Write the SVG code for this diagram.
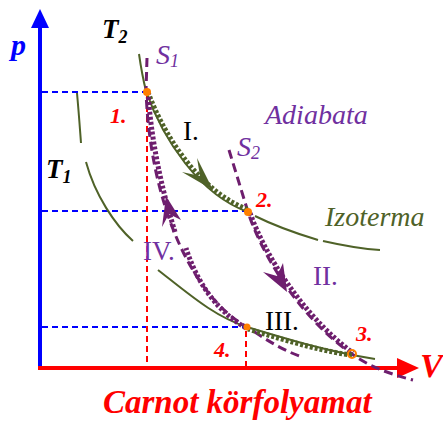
<svg xmlns="http://www.w3.org/2000/svg" width="443" height="424" viewBox="0 0 443 424">
<style>
.lbl{font-family:"Liberation Serif","Times New Roman",serif}
.bi{font-weight:bold;font-style:italic}
.it{font-style:italic}
.red{fill:#ff0000}
.pur{fill:#7030a0}
.grn{fill:#4f6228}
.guideB{stroke:#0000ff;stroke-width:2;stroke-dasharray:6 4;fill:none}
.guideR{stroke:#ff0000;stroke-width:2;stroke-dasharray:6 4;fill:none}
.iso{stroke:#4f6228;stroke-width:2;fill:none}
.adi{stroke:#6e1e6e;stroke-width:3;stroke-dasharray:9 5;fill:none}
.procG{stroke:#4f6228;stroke-width:5;stroke-dasharray:3 2;fill:none}
.procP{stroke:#6e1e6e;stroke-width:5;stroke-dasharray:3 2;fill:none}
.pt{fill:#ff8000}
</style>
<rect width="443" height="424" fill="#ffffff"/>
<g id="axes">
<line x1="40" y1="369" x2="40" y2="26" stroke="#0000ff" stroke-width="4"/>
<polygon points="40,9 31,28 49,28" fill="#0000ff"/>
<line x1="38" y1="368" x2="400" y2="368" stroke="#ff0000" stroke-width="4"/>
<polygon points="419,368 397,358 397,378" fill="#ff0000"/>
<text class="lbl bi" x="11" y="55" font-size="30" fill="#0000ff">p</text>
<text class="lbl bi red" x="420" y="377" font-size="34">V</text>
</g>
<g id="guides">
<line class="guideB" x1="42" y1="92" x2="146" y2="92"/>
<line class="guideB" x1="42" y1="211" x2="247" y2="211"/>
<line class="guideB" x1="42" y1="327" x2="247" y2="327"/>
<line class="guideR" x1="147" y1="96" x2="147" y2="366"/>
<line class="guideR" x1="246" y1="331" x2="246" y2="366"/>
</g>
<g id="connectors">
<path class="iso" d="M139,54 Q142,75 146,91 C163,140 200,195 248,212"/>
<path class="iso" d="M255,216 C275,226 298,234 318,240"/>
<path class="iso" d="M323,241 C345,246 362,249 380,250"/>
<path class="iso" d="M77,93 C79,115 80,130 81,143"/>
<path class="iso" d="M86,162 C95,195 115,225 133,241"/>
<path class="iso" d="M158,270 C190,295 215,317 247,327 C290,340 330,352 375,359"/>
<path class="adi" d="M147,58 L146,91 C150,200 190,295 247,327 C265,339 282,350 302,357"/>
<path class="adi" d="M229,150 L248,212 C262,255 300,318 352,354 C370,367 390,374 413,380"/>
<path class="procG" d="M148,92 C165,139 202,193 249,210"/>
<polygon points="213,190 197,158 200,176 182,172" fill="#4f6228"/>
<path class="procP" d="M250,213 C265,255 303,316 353,353"/>
<polygon points="287,292 283,263 277,276 263,272" fill="#6e1e6e"/>
<path class="procG" d="M352,355 C330,353 290,342 248,329"/>
<path class="procP" d="M246,328 C215,310 196,280 186,248"/>
<path class="procP" d="M175,232 C165,200 152,150 148,93"/>
<polygon points="166,196 162,227 169,214 181,220" fill="#6e1e6e"/>
</g>
<g id="node-1">
<circle class="pt" cx="147" cy="92" r="4"/>
<text class="lbl bi red" x="110" y="123" font-size="22">1.</text>
</g>
<g id="node-2">
<circle class="pt" cx="248" cy="212" r="4"/>
<text class="lbl bi red" x="256" y="207" font-size="22">2.</text>
</g>
<g id="node-3">
<circle cx="352" cy="354" r="4" fill="none" stroke="#ff8000" stroke-width="2"/>
<text class="lbl bi red" x="356" y="341" font-size="22">3.</text>
</g>
<g id="node-4">
<circle class="pt" cx="247" cy="327" r="3.5"/>
<text class="lbl bi red" x="214" y="357" font-size="22">4.</text>
</g>
<g id="labels">
<text class="lbl bi" x="102" y="38" font-size="27" fill="#000">T<tspan font-size="18" dy="5">2</tspan></text>
<text class="lbl it pur" x="156" y="64" font-size="28">S<tspan font-size="18" dy="3">1</tspan></text>
<text class="lbl bi" x="46" y="178" font-size="27" fill="#000">T<tspan font-size="18" dy="5">1</tspan></text>
<text class="lbl it pur" x="237" y="156" font-size="28">S<tspan font-size="18" dy="3">2</tspan></text>
<text class="lbl it pur" x="265" y="124" font-size="28">Adiabata</text>
<text class="lbl it grn" x="325" y="226" font-size="28">Izoterma</text>
<text class="lbl" x="183" y="140" font-size="27" fill="#000">I.</text>
<text class="lbl pur" x="313" y="285" font-size="27">II.</text>
<text class="lbl" x="265" y="330" font-size="27" fill="#000">III.</text>
<text class="lbl pur" x="143" y="260" font-size="27">IV.</text>
<text class="lbl bi red" x="103" y="413" font-size="33">Carnot körfolyamat</text>
</g>
</svg>
